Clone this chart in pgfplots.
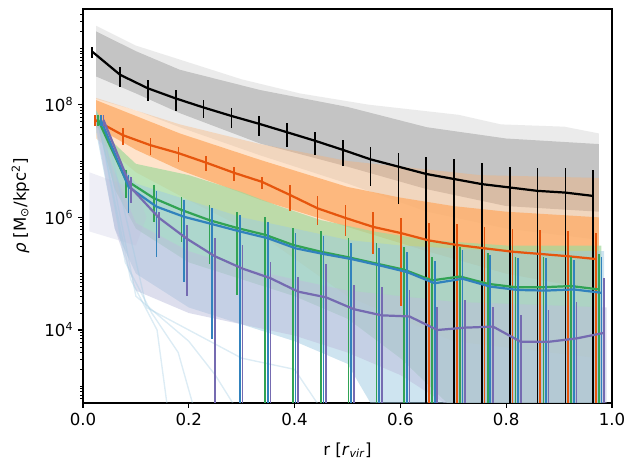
\documentclass[border=0pt]{standalone}
\usepackage{fontspec}
\setmainfont{DejaVu Sans}
\usepackage{pgfplots}
\pgfplotsset{compat=1.18}
\definecolor{cblack}{HTML}{000000}
\definecolor{corange}{HTML}{E6550D}
\definecolor{cgreen}{HTML}{31A354}
\definecolor{cblue}{HTML}{3182BD}
\definecolor{cpurple}{HTML}{756BB1}
\definecolor{lgray}{HTML}{BDBDBD}
\definecolor{lorange}{HTML}{FDAE6B}
\definecolor{lgreen}{HTML}{A1D99B}
\definecolor{lblue}{HTML}{9ECAE1}
\definecolor{lpurple}{HTML}{BCBDDC}
\begin{document}
\begin{tikzpicture}
\begin{axis}[
  scale only axis, width=380.9bp, height=283.7bp,
  xmin=0, xmax=1, ymode=log, ymin=506, ymax=5.0e9,
  xtick={0,0.2,0.4,0.6,0.8,1}, xticklabels={0.0,0.2,0.4,0.6,0.8,1.0},
  ytick={1e4,1e6,1e8}, yticklabels={10\textsuperscript{4},10\textsuperscript{6},10\textsuperscript{8}},
  minor ytick={600,700,800,900,1000,2000,3000,4000,5000,6000,7000,8000,9000,
    2e4,3e4,4e4,5e4,6e4,7e4,8e4,9e4,1e5,2e5,3e5,4e5,5e5,6e5,7e5,8e5,9e5,
    2e6,3e6,4e6,5e6,6e6,7e6,8e6,9e6,1e7,2e7,3e7,4e7,5e7,6e7,7e7,8e7,9e7,
    2e8,3e8,4e8,5e8,6e8,7e8,8e8,9e8,1e9,2e9,3e9,4e9},
  tick align=outside, xtick pos=bottom, ytick pos=left,
  major tick length=3.5bp, minor tick length=2bp,
  every tick/.style={black, line width=0.8bp},
  minor tick style={line width=0.6bp},
  axis line style={line width=0.8bp},
  tick label style={font=\fontsize{12}{14}\selectfont},
  label style={font=\fontsize{12}{14}\selectfont},
  xlabel={r [\textit{r}\textsubscript{\textit{vir}}]},
  ylabel={\textit{ρ} [M\textsubscript{⊙}/kpc\textsuperscript{2}]},
  xlabel style={at={(axis description cs:0.5,-0.1327)}, anchor=base},
  ylabel style={at={(axis description cs:-0.1078,0.5)}, anchor=base},
  error bars/y dir=both, error bars/y explicit,
  error bars/error mark=none,
  error bars/error bar style={line width=1.2bp},
  clip=true,
]
% ---------- background envelopes of the individual profiles ----------
\addplot[fill=lgray, fill opacity=0.3, draw=none, forget plot] coordinates {
 (0.025,2.51e9) (0.1,1.12e9) (0.2,5.62e8) (0.3,2.82e8) (0.41,1.585e8) (0.54,1.0e8)
 (0.71,6.61e7) (0.79,4.47e7) (0.91,4.07e7) (0.975,3.09e7)
 (0.975,3.98e5) (0.8,6.31e5) (0.65,1.26e6) (0.5,3.98e6) (0.335,1.26e7) (0.183,3.98e7)
 (0.1,7.94e7) (0.025,1.26e8)} -- cycle;
\addplot[fill=lgray, fill opacity=0.85, draw=none, forget plot] coordinates {
 (0.025,2.0e9) (0.1,8.91e8) (0.183,4.17e8) (0.335,1.82e8) (0.5,9.12e7) (0.65,3.98e7)
 (0.8,2.51e7) (0.975,2.0e7)
 (0.975,1.26e6) (0.8,1.585e6) (0.65,3.16e6) (0.5,7.94e6) (0.335,2.04e7) (0.183,7.08e7)
 (0.1,1.585e8) (0.025,3.16e8)} -- cycle;
\addplot[fill=lorange, fill opacity=0.35, draw=none, forget plot] coordinates {
 (0.025,1.318e8) (0.183,4.47e7) (0.335,2.0e7) (0.5,1.0e7) (0.6,7.94e6) (0.75,5.62e6)
 (0.975,5.01e6)
 (0.975,3.16e3) (0.7,6.31e3) (0.5,3.98e4) (0.35,3.98e5) (0.2,2.0e6) (0.1,6.31e6)
 (0.025,2.51e7)} -- cycle;
\addplot[fill=lorange, fill opacity=0.8, draw=none, forget plot] coordinates {
 (0.025,1.202e8) (0.1,6.31e7) (0.183,3.09e7) (0.335,1.047e7) (0.5,3.47e6) (0.6,2.24e6)
 (0.7,1.585e6) (0.8,1.26e6) (0.975,1.0e6)
 (0.975,5.01e4) (0.8,1.0e5) (0.65,2.51e5) (0.5,6.76e5) (0.335,2.04e6) (0.183,6.92e6)
 (0.1,1.585e7) (0.025,3.98e7)} -- cycle;
\addplot[fill=lgreen, fill opacity=0.7, draw=none, forget plot] coordinates {
 (0.025,7.94e7) (0.06,2.0e7) (0.1,8.91e6) (0.2,5.62e6) (0.3,2.82e6) (0.37,1.585e6)
 (0.45,8.91e5) (0.55,5.62e5) (0.65,3.98e5) (0.8,3.16e5) (0.98,3.16e5)
 (0.98,398) (0.7,398) (0.6,3.16e3) (0.5,1.585e4) (0.4,3.98e4) (0.3,7.94e4)
 (0.2,1.585e5) (0.1,6.31e5) (0.06,3.16e6) (0.025,5.01e7)} -- cycle;
\addplot[fill=lblue, fill opacity=0.5, draw=none, forget plot] coordinates {
 (0.025,7.94e7) (0.06,1.26e7) (0.1,3.98e6) (0.2,2.0e6) (0.3,1.0e6) (0.4,6.31e5)
 (0.5,3.98e5) (0.6,3.16e5) (0.8,2.51e5) (0.985,2.51e5)
 (0.985,398) (0.55,398) (0.5,2.51e3) (0.4,6.31e3) (0.3,1.26e4) (0.2,2.51e4)
 (0.1,1.0e5) (0.06,6.31e5) (0.025,3.16e7)} -- cycle;
\addplot[fill=lpurple, fill opacity=0.5, draw=none, forget plot] coordinates {
 (0.025,6.31e7) (0.06,6.31e6) (0.1,7.94e5) (0.2,2.51e5) (0.3,1.26e5) (0.4,7.94e4)
 (0.5,5.01e4) (0.6,3.98e4) (0.7,3.16e4) (0.99,2.51e4)
 (0.99,398) (0.7,398) (0.6,1.585e3) (0.5,3.98e3) (0.4,7.94e3) (0.3,1.26e4)
 (0.2,2.0e4) (0.1,5.01e4) (0.06,6.31e5) (0.025,3.98e7)} -- cycle;
\addplot[fill=lpurple, fill opacity=0.25, draw=none, forget plot] coordinates {
 (0.012,6.31e6) (0.1,3.16e6) (0.12,1.0e6) (0.1,3.16e5) (0.012,5.62e5)} -- cycle;
% faint single profiles in the lower left
\addplot[lblue, opacity=0.35, line width=1bp, forget plot] coordinates {
 (0.03,5.0e7) (0.08,1.585e5) (0.13,2.0e4) (0.18,3.98e3) (0.21,398)};
\addplot[lblue, opacity=0.35, line width=1bp, forget plot] coordinates {
 (0.03,5.0e7) (0.09,7.94e4) (0.14,1.0e4) (0.16,398)};
\addplot[lblue, opacity=0.35, line width=1bp, forget plot] coordinates {
 (0.035,5.0e7) (0.1,3.98e4) (0.2,6.31e3) (0.25,1.585e3) (0.29,398)};
\addplot[lblue, opacity=0.35, line width=1bp, forget plot] coordinates {
 (0.04,5.0e7) (0.12,2.51e4) (0.3,3.16e3) (0.4,2.0e3) (0.45,398)};
% ---------- mean profiles with error bars ----------
\addplot[cblack, line width=1.6bp, line join=round] table[x=x, y=y, y error plus=ep, y error minus=em, row sep=\\] {
x y ep em \\
0.0176 8.71e8 2.0e8 2.0e8 \\
0.0702 3.39e8 1.29e8 1.29e8 \\
0.1228 1.95e8 0.80e8 0.80e8 \\
0.1754 1.29e8 0.53e8 0.53e8 \\
0.2280 8.91e7 3.1e7 3.1e7 \\
0.2806 6.31e7 2.4e7 2.4e7 \\
0.3332 4.57e7 1.74e7 1.74e7 \\
0.3858 3.24e7 1.44e7 1.44e7 \\
0.4384 2.29e7 1.02e7 1.02e7 \\
0.4910 1.58e7 7.6e6 7.6e6 \\
0.5436 1.07e7 7.1e6 7.1e6 \\
0.5962 7.94e6 6.2e6 6.2e6 \\
0.6488 5.89e6 6.1e6 5.8899e6 \\
0.7014 4.79e6 5.9e6 4.7899e6 \\
0.7540 3.89e6 5.2e6 3.8899e6 \\
0.8066 3.39e6 4.55e6 3.3899e6 \\
0.8592 2.95e6 4.64e6 2.9499e6 \\
0.9118 2.75e6 4.84e6 2.7499e6 \\
0.9644 2.40e6 4.52e6 2.3999e6 \\
};
\addplot[corange, line width=1.6bp, line join=round] table[x=x, y=y, y error plus=ep, y error minus=em, row sep=\\] {
x y ep em \\
0.0226 5.37e7 1.24e7 1.24e7 \\
0.0752 2.88e7 0.92e7 0.92e7 \\
0.1278 1.905e7 0.61e7 0.61e7 \\
0.1804 1.38e7 0.40e7 0.40e7 \\
0.2330 9.33e6 2.7e6 2.7e6 \\
0.2856 6.17e6 1.77e6 1.77e6 \\
0.3382 4.27e6 1.0e6 1.1e6 \\
0.3908 2.51e6 1.21e6 1.21e6 \\
0.4434 1.445e6 0.9e6 0.7e6 \\
0.4960 9.77e5 6.8e5 5.2e5 \\
0.5486 6.76e5 5.8e5 4.5e5 \\
0.6012 5.25e5 4.3e5 4.98e5 \\
0.6538 3.89e5 4.05e5 3.8899e5 \\
0.7064 3.24e5 4.52e5 3.2399e5 \\
0.7590 2.82e5 3.94e5 2.8199e5 \\
0.8116 2.455e5 3.7e5 2.4549e5 \\
0.8642 2.24e5 3.8e5 2.2399e5 \\
0.9168 2.04e5 3.58e5 2.0399e5 \\
0.9694 1.82e5 3.43e5 1.8199e5 \\
};
\addplot[cgreen, line width=1.6bp, line join=round] table[x=x, y=y, y error plus=ep, y error minus=em, row sep=\\] {
x y ep em \\
0.0286 5.37e7 1.2e7 1.2e7 \\
0.0812 4.57e6 2.35e6 2.35e6 \\
0.1338 2.19e6 1.53e6 1.36e6 \\
0.1864 1.35e6 0.99e6 0.98e6 \\
0.2390 8.91e5 7.7e5 7.4e5 \\
0.2916 6.46e5 6.1e5 6.04e5 \\
0.3442 4.90e5 5.1e5 4.8999e5 \\
0.3968 3.24e5 3.22e5 3.2399e5 \\
0.4494 2.455e5 3.17e5 2.4549e5 \\
0.5020 1.95e5 2.32e5 1.9499e5 \\
0.5546 1.51e5 1.96e5 1.5099e5 \\
0.6072 1.175e5 1.78e5 1.1749e5 \\
0.6598 7.59e4 1.19e5 7.5899e4 \\
0.7124 8.91e4 2.13e5 8.9099e4 \\
0.7650 6.61e4 1.63e5 6.6099e4 \\
0.8176 5.75e4 1.42e5 5.7499e4 \\
0.8702 5.75e4 1.42e5 5.7499e4 \\
0.9228 6.03e4 1.4e5 6.0299e4 \\
0.9754 5.25e4 1.71e5 5.2499e4 \\
};
\addplot[cblue, line width=1.6bp, line join=round] table[x=x, y=y, y error plus=ep, y error minus=em, row sep=\\] {
x y ep em \\
0.0336 5.37e7 1.2e7 1.2e7 \\
0.0862 3.47e6 2.15e6 2.3e6 \\
0.1388 1.55e6 1.33e6 1.355e6 \\
0.1914 1.02e6 1.02e6 9.5e5 \\
0.2440 7.59e5 6.86e5 7.52e5 \\
0.2966 5.62e5 5.4e5 5.6199e5 \\
0.3492 4.27e5 4.0e5 4.2699e5 \\
0.4018 2.82e5 2.43e5 2.8199e5 \\
0.4544 2.24e5 2.33e5 2.2399e5 \\
0.5070 1.82e5 1.73e5 1.8199e5 \\
0.5596 1.41e5 1.47e5 1.4099e5 \\
0.6122 1.07e5 1.38e5 1.0699e5 \\
0.6648 6.76e4 9.8e4 6.7599e4 \\
0.7174 8.13e4 1.82e5 8.1299e4 \\
0.7700 5.89e4 1.55e5 5.8899e4 \\
0.8226 5.13e4 1.35e5 5.1299e4 \\
0.8752 5.01e4 1.36e5 5.0099e4 \\
0.9278 5.25e4 1.25e5 5.2499e4 \\
0.9804 4.57e4 1.54e5 4.5699e4 \\
};
\addplot[cpurple, line width=1.6bp, line join=round] table[x=x, y=y, y error plus=ep, y error minus=em, row sep=\\] {
x y ep em \\
0.0386 5.37e7 1.2e7 1.2e7 \\
0.0912 3.31e6 1.94e6 1.53e6 \\
0.1438 9.77e5 2.8e5 5.5e5 \\
0.1964 4.17e5 3.07e5 3.77e5 \\
0.2490 2.04e5 2.23e5 2.0399e5 \\
0.3016 1.23e5 2.0e5 1.2299e5 \\
0.3542 8.32e4 7.9e4 8.3199e4 \\
0.4068 4.79e4 4.1e4 4.7899e4 \\
0.4594 3.80e4 1.13e5 3.7999e4 \\
0.5120 2.34e4 3.83e4 2.3399e4 \\
0.5646 1.82e4 3.93e4 1.8199e4 \\
0.6172 1.74e4 3.39e4 1.7399e4 \\
0.6698 1.0e4 1.57e4 9.999e3 \\
0.7224 1.10e4 2.29e4 1.0999e4 \\
0.7750 1.15e4 1.42e4 1.1499e4 \\
0.8276 6.17e3 1.24e4 6.1699e3 \\
0.8802 6.17e3 1.67e4 6.1699e3 \\
0.9328 7.08e3 2.45e4 7.0799e3 \\
0.9854 8.91e3 7.6e4 8.9099e3 \\
};
\coordinate (bl) at (rel axis cs:-0.1569,-0.1726);
\coordinate (tr) at (rel axis cs:1.0416,1.0228);
\end{axis}
\pgfresetboundingbox
\useasboundingbox (bl) rectangle (tr);
\end{tikzpicture}
\end{document}
